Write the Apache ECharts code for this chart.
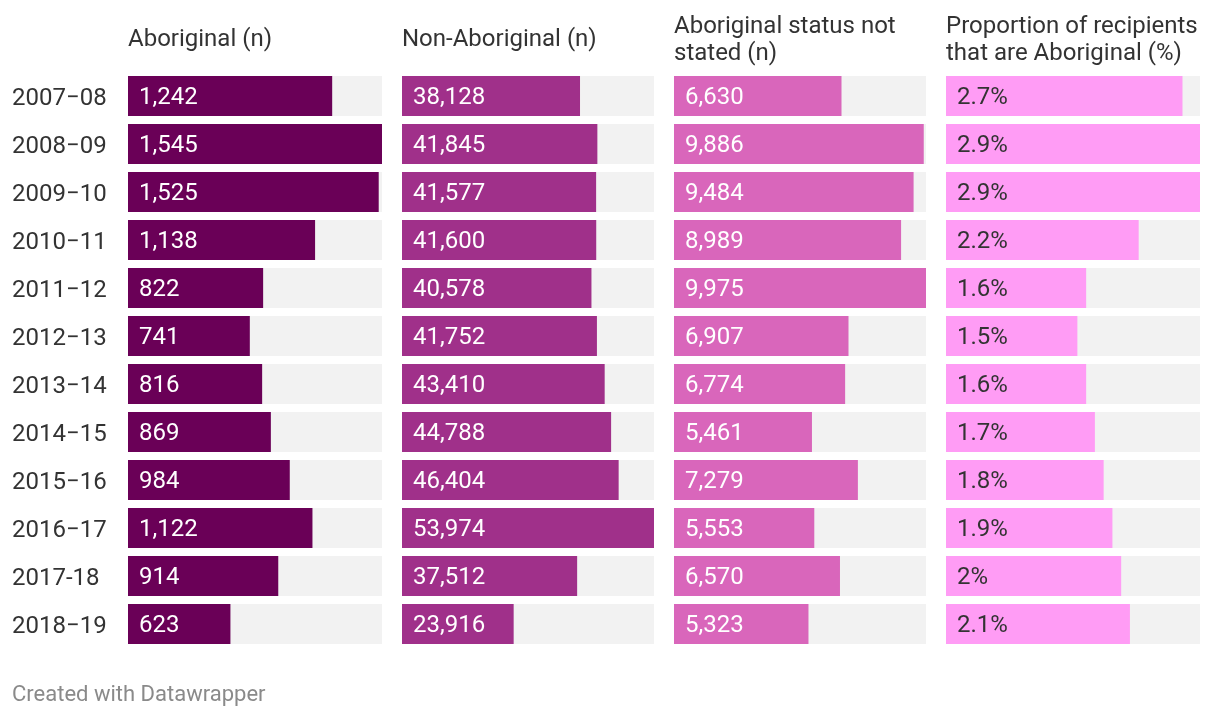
<!DOCTYPE html>
<html>
<head>
<meta charset="utf-8">
<script src="https://cdn.jsdelivr.net/npm/echarts@6/dist/echarts.min.js"></script>
<style>
html,body{margin:0;padding:0;background:#fff;}
#c{width:1220px;height:720px;}
</style>
</head>
<body>
<div id="c"></div>
<script>
const years = ['2007\u221208','2008\u221209','2009\u221210','2010\u221211','2011\u221212','2012\u221213','2013\u221214','2014\u221215','2015\u221216','2016\u221217','2017-18','2018\u221219'];
const aboriginal = [1242,1545,1525,1138,822,741,816,869,984,1122,914,623];
const nonAboriginal = [38128,41845,41577,41600,40578,41752,43410,44788,46404,53974,37512,23916];
const notStated = [6630,9886,9484,8989,9975,6907,6774,5461,7279,5553,6570,5323];
const proportion = [2.7,2.9,2.9,2.2,1.6,1.5,1.6,1.7,1.8,1.9,2,2.1];
const headers = ['Aboriginal (n)','Non-Aboriginal (n)','Aboriginal status not\nstated (n)','Proportion of recipients\nthat are Aboriginal (%)'];
const footer = 'Created with Datawrapper';

const FONT = 'Roboto';
const FS = 24;
const panels = [
  {left:128, width:254, data:aboriginal, color:'#6a0057', lc:'#ffffff', fmt:v=>v.toLocaleString('en-US')},
  {left:402, width:252, data:nonAboriginal, color:'#a0308a', lc:'#ffffff', fmt:v=>v.toLocaleString('en-US')},
  {left:674, width:252, data:notStated, color:'#d966bb', lc:'#ffffff', fmt:v=>v.toLocaleString('en-US')},
  {left:946, width:254, data:proportion, color:'#ff9cf5', lc:'#333333', fmt:v=>v+'%'}
];

const chart = echarts.init(document.getElementById('c'), null, {renderer:'canvas'});
const grid=[], xAxis=[], yAxis=[], series=[], graphic=[];
panels.forEach((p,i)=>{
  grid.push({left:p.left, width:p.width, top:72, height:576});
  xAxis.push({gridIndex:i, type:'value', min:0, max:'dataMax', show:false});
  yAxis.push({gridIndex:i, type:'category', data:years, inverse:true,
    axisLine:{show:false}, axisTick:{show:false}, splitLine:{show:false},
    axisLabel:{show:i===0, align:'left', margin:116, formatter:v=>'{a|'+v+'}',
      rich:{a:{color:'#333', fontFamily:FONT, fontSize:FS, padding:[5,0,0,0]}}}});
  series.push({type:'bar', xAxisIndex:i, yAxisIndex:i, data:p.data, barWidth:40,
    itemStyle:{color:p.color}, showBackground:true, backgroundStyle:{color:'#f2f2f2'},
    silent:true, animation:false,
    label:{show:true, position:'insideLeft', offset:[0,2], distance:11, color:p.lc, fontFamily:FONT, fontSize:FS,
      formatter:(d)=>p.fmt(d.value)}});
  graphic.push({type:'text', left:p.left, top:headers[i].includes('\n')?13:26,
    style:{text:headers[i], fill:'#333', font:`${FS}px ${FONT}`, lineHeight:27}});
});
graphic.push({type:'text', left:12, top:684, style:{text:footer, fill:'#8a8a8a', font:`22px ${FONT}`}});

chart.setOption({animation:false, backgroundColor:'#fff', grid, xAxis, yAxis, series, graphic});
</script>
</body>
</html>
